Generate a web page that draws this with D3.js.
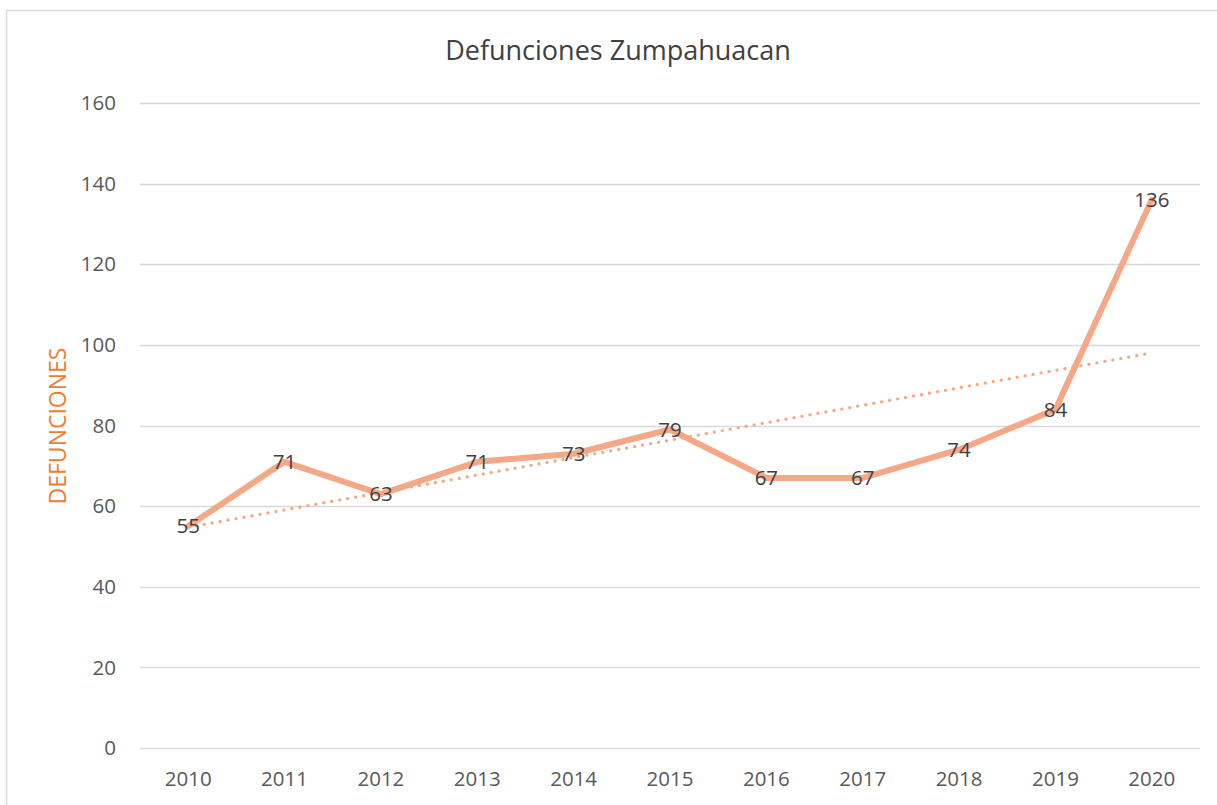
<!DOCTYPE html>
<html>
<head>
  <meta charset="utf-8">
  <title>Defunciones Zumpahuacan</title>
  <script src="https://d3js.org/d3.v7.min.js"></script>
  <style>
    body { margin: 0; background: #fff; }
    text { font-family: "Open Sans", "Noto Sans", sans-serif; }
  </style>
</head>
<body>
<script>
// data
var years = ["2010","2011","2012","2013","2014","2015","2016","2017","2018","2019","2020"];
var deaths = [55, 71, 63, 71, 73, 79, 67, 67, 74, 84, 136];
var yTicks = [0, 20, 40, 60, 80, 100, 120, 140, 160];

var width = 1217, height = 805;
var salmon = "#F4A888";

var svg = d3.select("body").append("svg")
    .attr("width", width)
    .attr("height", height);

// chart frame
svg.append("rect")
    .attr("x", 6.5).attr("y", 10.5)
    .attr("width", 1230).attr("height", 820)
    .attr("fill", "#fff")
    .attr("stroke", "#d9d9d9")
    .attr("stroke-width", 1.5);

var x = d3.scaleBand().domain(years).range([140, 1200]);
var y = d3.scaleLinear().domain([0, 160]).range([748, 103]);
var cx = function(d) { return x(d) + x.bandwidth() / 2; };

// gridlines
svg.append("g").selectAll("line")
    .data(yTicks)
  .enter().append("line")
    .attr("x1", 140).attr("x2", 1200)
    .attr("y1", function(d) { return Math.round(y(d)) + 0.5; })
    .attr("y2", function(d) { return Math.round(y(d)) + 0.5; })
    .attr("stroke", "#d9d9d9")
    .attr("stroke-width", 1.5);

// y axis labels
svg.append("g").selectAll("text")
    .data(yTicks)
  .enter().append("text")
    .attr("x", 116)
    .attr("y", function(d) { return y(d); })
    .attr("dy", "0.35em")
    .attr("text-anchor", "end")
    .attr("fill", "#595959")
    .style("font-size", "20.5px")
    .text(function(d) { return d; });

// x axis labels
svg.append("g").selectAll("text")
    .data(years)
  .enter().append("text")
    .attr("x", cx)
    .attr("y", 779)
    .attr("dy", "0.35em")
    .attr("text-anchor", "middle")
    .attr("fill", "#595959")
    .style("font-size", "20.5px")
    .text(function(d) { return d; });

// title
svg.append("text")
    .attr("x", 618).attr("y", 51)
    .attr("dy", "0.35em")
    .attr("text-anchor", "middle")
    .attr("fill", "#404040")
    .style("font-size", "27px")
    .text("Defunciones Zumpahuacan");

// y axis title
svg.append("text")
    .attr("transform", "translate(58,426) rotate(-90)")
    .attr("dy", "0.35em")
    .attr("text-anchor", "middle")
    .attr("fill", "#ED7D31")
    .style("font-size", "23px")
    .text("DEFUNCIONES");

// linear trendline (least squares on the series)
var n = deaths.length;
var mx = d3.mean(d3.range(n)), my = d3.mean(deaths);
var sxy = d3.sum(deaths, function(d, i) { return (i - mx) * (d - my); });
var sxx = d3.sum(d3.range(n), function(i) { return (i - mx) * (i - mx); });
var slope = sxy / sxx, icpt = my - slope * mx;

svg.append("line")
    .attr("x1", cx(years[0])).attr("y1", y(icpt))
    .attr("x2", cx(years[n - 1])).attr("y2", y(icpt + slope * (n - 1)))
    .attr("stroke", salmon)
    .attr("stroke-width", 3.2)
    .attr("stroke-linecap", "round")
    .attr("stroke-dasharray", "0.1 8");

// series line
var line = d3.line()
    .x(function(d, i) { return cx(years[i]); })
    .y(function(d) { return y(d); });

svg.append("path")
    .datum(deaths)
    .attr("d", line)
    .attr("fill", "none")
    .attr("stroke", salmon)
    .attr("stroke-width", 6)
    .attr("stroke-linejoin", "round")
    .attr("stroke-linecap", "round");

// data labels
svg.append("g").selectAll("text")
    .data(deaths)
  .enter().append("text")
    .attr("x", function(d, i) { return cx(years[i]); })
    .attr("y", function(d) { return y(d); })
    .attr("dy", "0.35em")
    .attr("text-anchor", "middle")
    .attr("fill", "#404040")
    .style("font-size", "20.5px")
    .text(function(d) { return d; });
</script>
</body>
</html>
